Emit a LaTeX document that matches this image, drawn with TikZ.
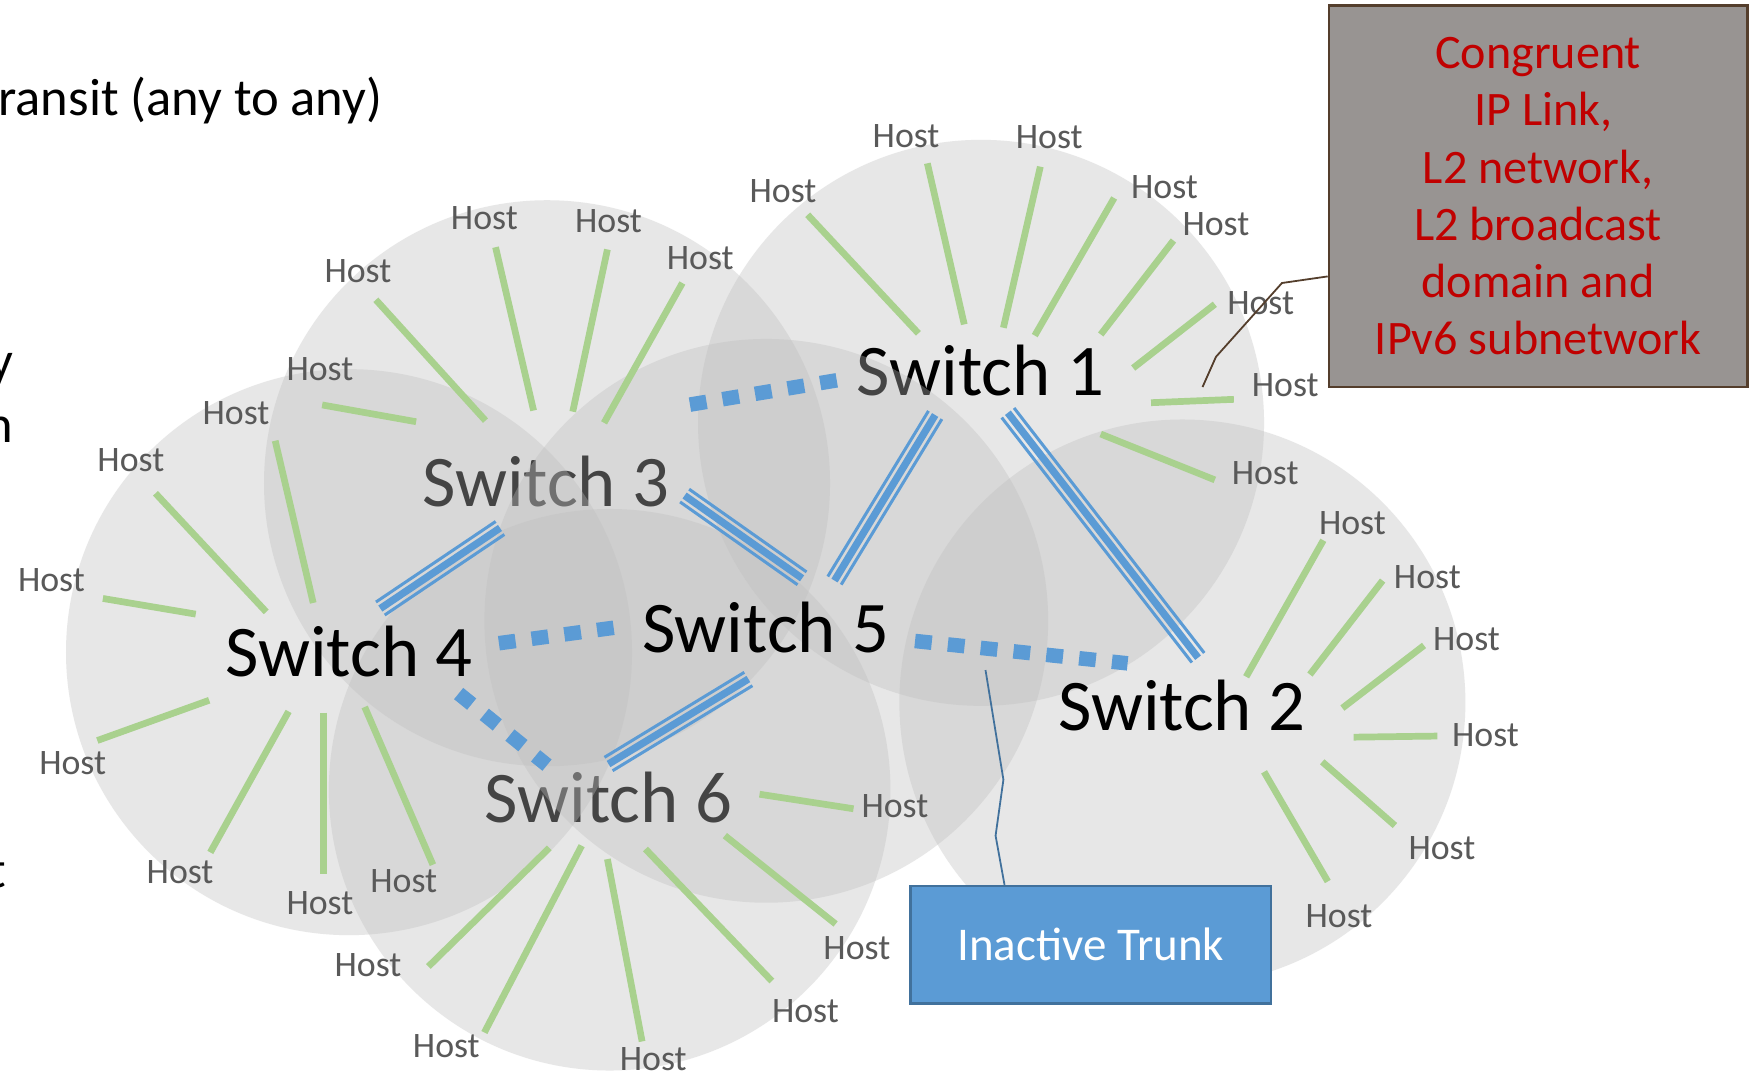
\documentclass[tikz,border=0pt]{standalone}
\usepackage{fontspec}
\setmainfont{Carlito}
\usetikzlibrary{calc}

\definecolor{discgray}{RGB}{190,190,190}
\definecolor{hostgreen}{RGB}{169,209,142}
\definecolor{trunkblue}{RGB}{91,155,213}
\definecolor{boxedge}{RGB}{65,113,156}
\definecolor{hosttext}{RGB}{89,89,89}
\definecolor{notered}{RGB}{192,0,0}
\definecolor{notefill}{RGB}{152,148,146}
\definecolor{noteedge}{RGB}{84,62,44}

% triple trunk: thin - thick - thin, gaps left open
\newcommand\trunkline[2]{%
  \draw[trunkside] ($(#1)!7pt!90:(#2)$) -- ($(#2)!7pt!-90:(#1)$);
  \draw[trunkcore] (#1) -- (#2);
  \draw[trunkside] ($(#1)!7pt!-90:(#2)$) -- ($(#2)!7pt!90:(#1)$);}

\begin{document}
\begin{tikzpicture}[x=1pt,y=-1pt,
  bcast/.style={fill=discgray, fill opacity=0.36, draw=none},
  swlabel/.style={font=\fontsize{65}{78}\selectfont, inner sep=0pt, anchor=base},
  hostlabel/.style={font=\fontsize{32}{38}\selectfont, text=hosttext, inner sep=0pt},
  hostlink/.style={draw=hostgreen, line width=6pt},
  trunkcore/.style={draw=trunkblue, line width=6.5pt},
  trunkside/.style={draw=trunkblue, line width=2.7pt},
  inactive/.style={draw=trunkblue, line width=13pt, dash pattern=on 15pt off 14.5pt},
  slidetext/.style={font=\fontsize{47}{56}\selectfont, inner sep=0pt, anchor=base east},
  notebox/.style={draw=noteedge, line width=2.2pt, fill=notefill, text=notered,
    minimum width=374pt, minimum height=341pt, align=center, inner sep=0pt,
    font=\fontsize{43}{51.2}\selectfont},
  trunkbox/.style={draw=boxedge, line width=2pt, fill=trunkblue, text=white,
    minimum width=322pt, minimum height=105pt, inner sep=0pt,
    font=\fontsize{42}{50}\selectfont},
  notelead/.style={draw=noteedge, line width=1.6pt},
  trunklead/.style={draw=boxedge, line width=1.6pt}]

\useasboundingbox (0,0) rectangle (1568,957);
\fill[white] (0,0) rectangle (1568,957);

% slide text running in from the left
\node[slidetext] (ttl) at (342,103) {ransit (any to any)};
\node[slidetext] (frag1) at (12,338) {y};
\node[slidetext] (frag2) at (12,396) {n};
\node[slidetext] (frag3) at (6,793) {t};

% broadcast domains, layered with the switch names
\fill[bcast] (877,378) circle[radius=253pt];
\fill[bcast] (489,432) circle[radius=253pt];
\fill[bcast] (545,706) circle[radius=251pt];
\node[swlabel] (s1) at (876.5,354) {Switch 1};
\node[swlabel] (s3) at (488,453) {Switch 3};
\node[swlabel] (s6) at (544,735) {Switch 6};
\fill[bcast] (685,555) circle[radius=252pt];
\fill[bcast] (312,583) circle[radius=253pt];
\fill[bcast] (1057,628) circle[radius=253pt];

% host links
\foreach \ax/\ay/\bx/\by/\lx/\ly [count=\i] in {
  821/298/722/192/700/171, 862/290/829/146/810/122, 897/293/930/149/938/123,
  925/300/996/177/1041/167, 984/299/1049/215/1087/200, 1013/329/1086/272/1127/271,
  1029/360/1103/357/1149/344, 984/388/1086/429/1131/423}{
  \coordinate (s1a\i) at (\ax,\ay); \coordinate (s1b\i) at (\bx,\by);
  \draw[hostlink] (s1a\i) -- (s1b\i);
  \node[hostlabel] (s1h\i) at (\lx,\ly) {Host};}
\foreach \ax/\ay/\bx/\by/\lx/\ly [count=\i] in {
  434/376/336/268/320/242, 477/367/443/221/433/195, 512/368/543/223/544/198,
  540/378/610/253/626/231, 372/377/288/362/286/330}{
  \coordinate (s3a\i) at (\ax,\ay); \coordinate (s3b\i) at (\bx,\by);
  \draw[hostlink] (s3a\i) -- (s3b\i);
  \node[hostlabel] (s3h\i) at (\lx,\ly) {Host};}
\foreach \ax/\ay/\bx/\by/\lx/\ly [count=\i] in {
  280/539/246/394/211/369, 238/547/139/441/117/411, 175/549/92/535/46/519,
  187/626/87/662/65/682, 258/636/188/762/161/780, 289/637/289/781/286/807,
  326/632/387/773/361/788}{
  \coordinate (s4a\i) at (\ax,\ay); \coordinate (s4b\i) at (\bx,\by);
  \draw[hostlink] (s4a\i) -- (s4b\i);
  \node[hostlabel] (s4h\i) at (\lx,\ly) {Host};}
\foreach \ax/\ay/\bx/\by/\lx/\ly [count=\i] in {
  679/710/763/723/800/721, 648/747/747/826/766/848, 577/759/690/877/720/904,
  543/768/574/931/584/947, 520/756/433/923/399/935, 491/758/383/864/329/863}{
  \coordinate (s6a\i) at (\ax,\ay); \coordinate (s6b\i) at (\bx,\by);
  \draw[hostlink] (s6a\i) -- (s6b\i);
  \node[hostlabel] (s6h\i) at (\lx,\ly) {Host};}
\foreach \ax/\ay/\bx/\by/\lx/\ly [count=\i] in {
  1114/605/1183/483/1209/468, 1171/603/1236/519/1276/516, 1200/633/1273/577/1311/571,
  1210/659/1285/658/1328/657, 1182/681/1247/738/1289/758, 1130/690/1187/788/1197/819}{
  \coordinate (s2a\i) at (\ax,\ay); \coordinate (s2b\i) at (\bx,\by);
  \draw[hostlink] (s2a\i) -- (s2b\i);
  \node[hostlabel] (s2h\i) at (\lx,\ly) {Host};}

% active trunks
\coordinate (t34a) at (447,472); \coordinate (t34b) at (340,544);
\coordinate (t35a) at (612,443); \coordinate (t35b) at (717,517);
\coordinate (t15a) at (836,371); \coordinate (t15b) at (746,519);
\coordinate (t12a) at (901,369); \coordinate (t12b) at (1071,588);
\coordinate (t56a) at (669,607); \coordinate (t56b) at (544,683);
\trunkline{t34a}{t34b}
\trunkline{t35a}{t35b}
\trunkline{t15a}{t15b}
\trunkline{t12a}{t12b}
\trunkline{t56a}{t56b}

% inactive trunks
\coordinate (d13a) at (748,340); \coordinate (d13b) at (615,362);
\coordinate (d45a) at (446,575); \coordinate (d45b) at (550,561);
\coordinate (d52a) at (818,573); \coordinate (d52b) at (1008,593);
\coordinate (d46a) at (410,620); \coordinate (d46b) at (489,684);
\draw[inactive] (d13a) -- (d13b);
\draw[inactive] (d45a) -- (d45b);
\draw[inactive] (d52a) -- (d52b);
\draw[inactive] (d46a) -- (d46b);

% switch names on top
\node[swlabel] (s4) at (312,605) {Switch 4};
\node[swlabel] (s5) at (684.5,583) {Switch 5};
\node[swlabel] (s2) at (1056.5,653) {Switch 2};

% notes and their leaders
\node[notebox] (note) at (1375,175.5) {Congruent\\\hspace*{0.23em}IP Link,\\L2 network,\\L2 broadcast\\domain and\\IPv6 subnetwork};
\node[trunkbox] (inact) at (975,844.5) {Inactive Trunk};

\coordinate (nb1) at (1146,253); \coordinate (nb2) at (1087,319);
\coordinate (noteTip) at (1075,346);
\draw[notelead] ([yshift=100pt]note.south west) -- (nb1) -- (nb2) -- (noteTip);
\coordinate (ib1) at (890,747); \coordinate (ib2) at (897,697);
\coordinate (trunkTip) at (881,599);
\draw[trunklead] ([xshift=-77pt]inact.north) -- (ib1) -- (ib2) -- (trunkTip);
\end{tikzpicture}
\end{document}
